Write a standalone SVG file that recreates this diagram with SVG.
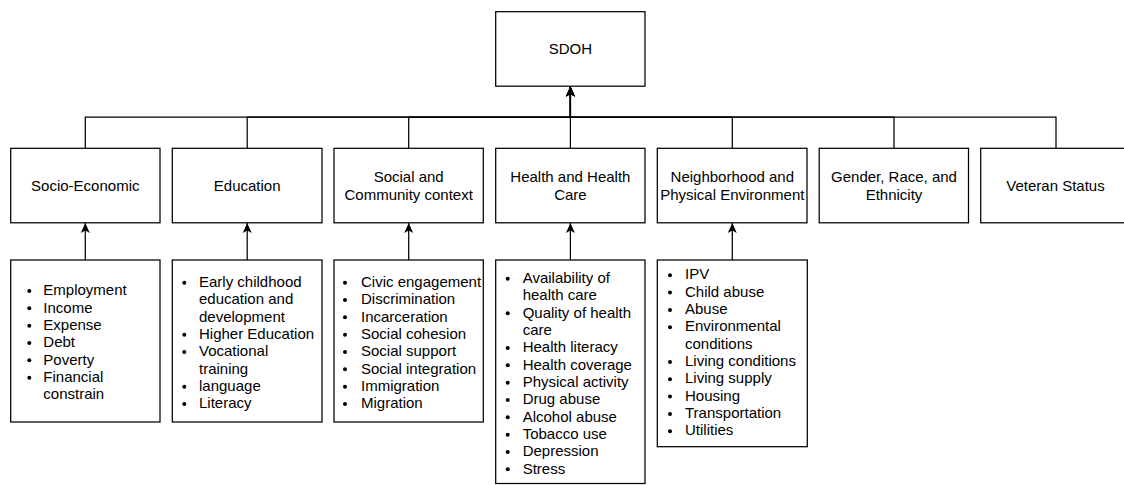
<svg xmlns="http://www.w3.org/2000/svg" width="1124" height="485" viewBox="0 0 1124 485">
<defs>
<marker id="arr" viewBox="0 0 10 10" markerWidth="10" markerHeight="10" markerUnits="userSpaceOnUse" refX="10" refY="5" orient="auto">
<path d="M0,0.5 L10,5 L0,9.5 L2.5,5 Z" fill="#000"/>
</marker>
</defs>
<style>
.box{fill:#fff;stroke:#000;stroke-width:1.25}
.lbl{font-family:"Liberation Sans",Arial,sans-serif;font-size:15px;fill:#000;text-anchor:middle}
.li{font-family:"Liberation Sans",Arial,sans-serif;font-size:15px;fill:#000}
.edge{fill:none;stroke:#000;stroke-width:1.25;marker-end:url(#arr)}
.dot{fill:#000}
</style>
<rect width="1124" height="485" fill="#fff"/>
<g id="connectors">
<path class="edge" d="M85.3,148.3 V117 H570.4 V86.5"/>
<path class="edge" d="M247.2,148.3 V117 H570.4 V86.5"/>
<path class="edge" d="M408.7,148.3 V117 H570.4 V86.5"/>
<path class="edge" d="M570.4,148.3 V86.5"/>
<path class="edge" d="M732.3,148.3 V117 H570.4 V86.5"/>
<path class="edge" d="M894,148.3 V117 H570.4 V86.5"/>
<path class="edge" d="M1056,148.3 V117 H570.4 V86.5"/>
<path class="edge" d="M85.3,260 V223"/>
<path class="edge" d="M247.2,260 V223"/>
<path class="edge" d="M408.7,260 V223"/>
<path class="edge" d="M570.4,260 V223"/>
<path class="edge" d="M732.3,260 V223"/>
</g>
<g id="sdoh">
<rect class="box" x="495.7" y="11.7" width="149.3" height="74.5"/>
<text class="lbl" x="570.4" y="54.2">SDOH</text>
</g>
<g id="socio-economic">
<rect class="box" x="10.7" y="148.3" width="149.3" height="74.5"/>
<text class="lbl" x="85.3" y="190.7">Socio-Economic</text>
</g>
<g id="education">
<rect class="box" x="172.3" y="148.3" width="149.7" height="74.5"/>
<text class="lbl" x="247.2" y="190.7">Education</text>
</g>
<g id="social-community">
<rect class="box" x="334" y="148.3" width="149.3" height="74.5"/>
<text class="lbl" x="408.7" y="182"><tspan x="408.7">Social and</tspan><tspan x="408.7" dy="17.5">Community context</tspan></text>
</g>
<g id="health-care">
<rect class="box" x="495.7" y="148.3" width="149.3" height="74.5"/>
<text class="lbl" x="570.4" y="182"><tspan x="570.4">Health and Health</tspan><tspan x="570.4" dy="17.5">Care</tspan></text>
</g>
<g id="neighborhood">
<rect class="box" x="657.3" y="148.3" width="149.7" height="74.5"/>
<text class="lbl" x="732.3" y="182"><tspan x="732.3">Neighborhood and</tspan><tspan x="732.3" dy="17.5">Physical Environment</tspan></text>
</g>
<g id="gender-race">
<rect class="box" x="819.2" y="148.3" width="149.3" height="74.5"/>
<text class="lbl" x="894" y="182"><tspan x="894">Gender, Race, and</tspan><tspan x="894" dy="17.5">Ethnicity</tspan></text>
</g>
<g id="veteran">
<rect class="box" x="980.7" y="148.3" width="149.3" height="74.5"/>
<text class="lbl" x="1055.5" y="190.7">Veteran Status</text>
</g>
<g id="list-socio">
<rect class="box" x="10.7" y="260" width="149.3" height="162"/>
<g class="dot">
<circle cx="29.3" cy="291" r="2"/><circle cx="29.3" cy="308.3" r="2"/><circle cx="29.3" cy="325.7" r="2"/><circle cx="29.3" cy="343" r="2"/><circle cx="29.3" cy="360.3" r="2"/><circle cx="29.3" cy="377.7" r="2"/>
</g>
<text class="li" x="43.3" y="295.2"><tspan x="43.3">Employment</tspan><tspan x="43.3" dy="17.33">Income</tspan><tspan x="43.3" dy="17.33">Expense</tspan><tspan x="43.3" dy="17.33">Debt</tspan><tspan x="43.3" dy="17.33">Poverty</tspan><tspan x="43.3" dy="17.33">Financial</tspan><tspan x="43.3" dy="17.33">constrain</tspan></text>
</g>
<g id="list-education">
<rect class="box" x="172.3" y="260" width="149.7" height="162"/>
<g class="dot">
<circle cx="184.3" cy="282.7" r="2"/><circle cx="184.3" cy="334.7" r="2"/><circle cx="184.3" cy="352" r="2"/><circle cx="184.3" cy="386.7" r="2"/><circle cx="184.3" cy="404" r="2"/>
</g>
<text class="li" x="199" y="286.9"><tspan x="199">Early childhood</tspan><tspan x="199" dy="17.33">education and</tspan><tspan x="199" dy="17.33">development</tspan><tspan x="199" dy="17.33">Higher Education</tspan><tspan x="199" dy="17.33">Vocational</tspan><tspan x="199" dy="17.33">training</tspan><tspan x="199" dy="17.33">language</tspan><tspan x="199" dy="17.33">Literacy</tspan></text>
</g>
<g id="list-social">
<rect class="box" x="334" y="260" width="149.3" height="162"/>
<g class="dot">
<circle cx="345" cy="282.7" r="2"/><circle cx="345" cy="300" r="2"/><circle cx="345" cy="317.3" r="2"/><circle cx="345" cy="334.7" r="2"/><circle cx="345" cy="352" r="2"/><circle cx="345" cy="369.3" r="2"/><circle cx="345" cy="386.7" r="2"/><circle cx="345" cy="404" r="2"/>
</g>
<text class="li" x="361" y="286.9"><tspan x="361">Civic engagement</tspan><tspan x="361" dy="17.33">Discrimination</tspan><tspan x="361" dy="17.33">Incarceration</tspan><tspan x="361" dy="17.33">Social cohesion</tspan><tspan x="361" dy="17.33">Social support</tspan><tspan x="361" dy="17.33">Social integration</tspan><tspan x="361" dy="17.33">Immigration</tspan><tspan x="361" dy="17.33">Migration</tspan></text>
</g>
<g id="list-health">
<rect class="box" x="495.7" y="260" width="149.3" height="223.5"/>
<g class="dot">
<circle cx="507.7" cy="278.7" r="2"/><circle cx="507.7" cy="313.3" r="2"/><circle cx="507.7" cy="348" r="2"/><circle cx="507.7" cy="365.3" r="2"/><circle cx="507.7" cy="382.7" r="2"/><circle cx="507.7" cy="400" r="2"/><circle cx="507.7" cy="417.3" r="2"/><circle cx="507.7" cy="434.7" r="2"/><circle cx="507.7" cy="452" r="2"/><circle cx="507.7" cy="469.3" r="2"/>
</g>
<text class="li" x="522.7" y="282.9"><tspan x="522.7">Availability of</tspan><tspan x="522.7" dy="17.33">health care</tspan><tspan x="522.7" dy="17.33">Quality of health</tspan><tspan x="522.7" dy="17.33">care</tspan><tspan x="522.7" dy="17.33">Health literacy</tspan><tspan x="522.7" dy="17.33">Health coverage</tspan><tspan x="522.7" dy="17.33">Physical activity</tspan><tspan x="522.7" dy="17.33">Drug abuse</tspan><tspan x="522.7" dy="17.33">Alcohol abuse</tspan><tspan x="522.7" dy="17.33">Tobacco use</tspan><tspan x="522.7" dy="17.33">Depression</tspan><tspan x="522.7" dy="17.33">Stress</tspan></text>
</g>
<g id="list-neighborhood">
<rect class="box" x="657.3" y="260" width="150" height="186.7"/>
<g class="dot">
<circle cx="670" cy="275.2" r="2"/><circle cx="670" cy="292.5" r="2"/><circle cx="670" cy="309.9" r="2"/><circle cx="670" cy="327.2" r="2"/><circle cx="670" cy="361.9" r="2"/><circle cx="670" cy="379.2" r="2"/><circle cx="670" cy="396.5" r="2"/><circle cx="670" cy="413.9" r="2"/><circle cx="670" cy="431.2" r="2"/>
</g>
<text class="li" x="685" y="279.4"><tspan x="685">IPV</tspan><tspan x="685" dy="17.33">Child abuse</tspan><tspan x="685" dy="17.33">Abuse</tspan><tspan x="685" dy="17.33">Environmental</tspan><tspan x="685" dy="17.33">conditions</tspan><tspan x="685" dy="17.33">Living conditions</tspan><tspan x="685" dy="17.33">Living supply</tspan><tspan x="685" dy="17.33">Housing</tspan><tspan x="685" dy="17.33">Transportation</tspan><tspan x="685" dy="17.33">Utilities</tspan></text>
</g>
</svg>
